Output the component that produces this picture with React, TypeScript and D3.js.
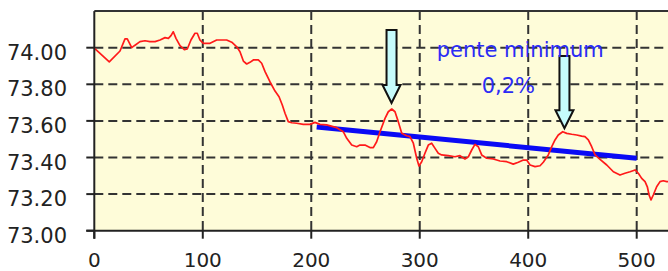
import React, { useEffect, useRef } from 'react';
import * as d3 from 'd3';

// red series: position (x) and price (y)
const seriesX = [0, 13.8, 23.7, 28.3, 30.4, 34.5, 36.9, 42.1, 46.7, 51.3, 56.0, 60.6, 65.2, 68.3, 70.7, 72.8, 75.3, 79.0, 83.0, 85.7, 89.1, 92.8, 94.9, 97.4, 100.5, 106.7, 112.8, 122.0, 126.7, 131.3, 134.3, 137.4, 140.5, 143.5, 146.6, 151.2, 154.3, 157.4, 161.9, 166.6, 170.3, 173.3, 175.8, 178.8, 182.0, 186.6, 192.7, 198.8, 203.4, 208.1, 214.2, 223.4, 229.5, 232.7, 237.3, 241.9, 244.9, 249.5, 254.1, 257.2, 260.3, 263.4, 268.0, 271.0, 274.2, 277.2, 280.2, 283.4, 288.0, 291.0, 294.1, 297.2, 299.3, 301.8, 304.8, 307.9, 311.0, 314.1, 317.1, 320.2, 326.3, 332.5, 337.1, 341.7, 344.8, 347.9, 350.9, 354.0, 357.1, 361.7, 367.8, 374.0, 380.2, 386.2, 390.9, 395.5, 398.6, 401.7, 406.3, 410.9, 413.9, 418.5, 421.7, 424.7, 427.7, 431.8, 435.5, 440.1, 444.7, 449.3, 452.3, 455.4, 458.5, 461.6, 466.2, 472.4, 478.5, 484.6, 489.2, 493.9, 498.5, 501.5, 504.6, 507.7, 509.8, 511.4, 513.2, 515.3, 518.4, 521.5, 524.5, 527.7, 535];
const seriesY = [73.998, 73.923, 73.982, 74.048, 74.048, 74.000, 74.011, 74.033, 74.038, 74.033, 74.033, 74.042, 74.055, 74.051, 74.066, 74.087, 74.051, 74.011, 73.989, 73.993, 74.042, 74.079, 74.079, 74.042, 74.024, 74.024, 74.042, 74.042, 74.030, 74.005, 73.978, 73.927, 73.911, 73.920, 73.933, 73.933, 73.915, 73.869, 73.814, 73.763, 73.732, 73.687, 73.642, 73.596, 73.590, 73.587, 73.581, 73.581, 73.592, 73.581, 73.578, 73.563, 73.541, 73.505, 73.468, 73.459, 73.468, 73.468, 73.454, 73.454, 73.486, 73.541, 73.614, 73.650, 73.665, 73.650, 73.596, 73.532, 73.519, 73.514, 73.478, 73.396, 73.354, 73.377, 73.423, 73.468, 73.478, 73.450, 73.423, 73.414, 73.410, 73.404, 73.410, 73.392, 73.404, 73.441, 73.472, 73.459, 73.414, 73.396, 73.392, 73.381, 73.377, 73.364, 73.374, 73.386, 73.386, 73.359, 73.350, 73.355, 73.374, 73.414, 73.459, 73.496, 73.523, 73.541, 73.532, 73.527, 73.523, 73.517, 73.514, 73.496, 73.459, 73.414, 73.390, 73.359, 73.322, 73.304, 73.314, 73.322, 73.332, 73.314, 73.286, 73.268, 73.240, 73.195, 73.168, 73.195, 73.240, 73.268, 73.273, 73.268, 73.27];

// minimum slope line (start, end)
const slopeX = [205, 500];
const slopeY = [73.567, 73.396];

// arrows: x, tip value, top value
const arrowX = [274, 433.4];
const arrowTip = [73.698, 73.560];
const arrowTop = [74.097, 73.955];

const xTicks = [0, 100, 200, 300, 400, 500];
const yTicks = [73.0, 73.2, 73.4, 73.6, 73.8, 74.0];

const noteLines = ['pente minimum', '0,2%'];
const noteX = [315.6, 357.1];
const noteY = [73.948, 73.750];

function App() {
  const graphRef = useRef<SVGSVGElement>(null);

  function drawChart() {
    const width = 668;
    const height = 271;
    const svg = d3.select(graphRef.current);
    svg.selectAll('*').remove();
    svg.attr('width', width).attr('height', height);

    const x = d3.scaleLinear().domain([0, 550]).range([94.3, 94.3 + 550 * 1.0848]);
    const y = d3.scaleLinear().domain([73, 74.2]).range([230.7, 230.7 - 1.2 * 183]);

    const left = x(0), right = x(550), top = y(74.2), bottom = y(73);

    svg.append('rect')
      .attr('x', left).attr('y', top)
      .attr('width', right - left).attr('height', bottom - top)
      .attr('fill', '#fefcd9');

    // dashed grid
    svg.selectAll('.hgrid')
      .data(yTicks.slice(1))
      .enter().append('line')
        .attr('x1', left).attr('x2', right)
        .attr('y1', d => y(d)).attr('y2', d => y(d))
        .attr('stroke', '#333')
        .attr('stroke-width', 2)
        .attr('stroke-dasharray', '9,5');
    svg.selectAll('.vgrid')
      .data(xTicks.slice(1))
      .enter().append('line')
        .attr('x1', d => x(d)).attr('x2', d => x(d))
        .attr('y1', top).attr('y2', bottom)
        .attr('stroke', '#333')
        .attr('stroke-width', 2)
        .attr('stroke-dasharray', '9,5');

    // slope line
    svg.append('line')
      .attr('x1', x(slopeX[0])).attr('y1', y(slopeY[0]))
      .attr('x2', x(slopeX[1])).attr('y2', y(slopeY[1]))
      .attr('stroke', '#0a0af5')
      .attr('stroke-width', 5);

    const line = d3.line<number>()
      .x((d, i) => x(seriesX[i]))
      .y(d => y(d));
    svg.append('path')
      .attr('d', line(seriesY))
      .attr('fill', 'none')
      .attr('stroke', '#ff1a1a')
      .attr('stroke-width', 1.7)
      .attr('stroke-linejoin', 'round');

    // arrows
    arrowX.forEach((ax, i) => {
      const cx = x(ax);
      const tip = y(arrowTip[i]);
      const t = y(arrowTop[i]);
      const hw = 9, sw = 5, hh = 18;
      const p = d3.path();
      p.moveTo(cx - sw, t);
      p.lineTo(cx + sw, t);
      p.lineTo(cx + sw, tip - hh);
      p.lineTo(cx + hw, tip - hh);
      p.lineTo(cx, tip);
      p.lineTo(cx - hw, tip - hh);
      p.lineTo(cx - sw, tip - hh);
      p.closePath();
      svg.append('path')
        .attr('d', p.toString())
        .attr('fill', '#c6fbfb')
        .attr('stroke', '#111')
        .attr('stroke-width', 2)
        .attr('stroke-linejoin', 'miter');
    });

    // note
    svg.selectAll('.note')
      .data(noteLines)
      .enter().append('text')
        .attr('x', (d, i) => x(noteX[i]))
        .attr('y', (d, i) => y(noteY[i]))
        .attr('fill', '#2b2bf5')
        .style('font-family', '"DejaVu Sans", sans-serif')
        .style('font-size', '21px')
        .text(d => d);

    // frame
    svg.append('line')
      .attr('x1', left).attr('x2', right)
      .attr('y1', top).attr('y2', top)
      .attr('stroke', '#333').attr('stroke-width', 2);
    svg.append('line')
      .attr('x1', left - 8).attr('x2', right)
      .attr('y1', bottom).attr('y2', bottom)
      .attr('stroke', '#222').attr('stroke-width', 2);
    svg.append('line')
      .attr('x1', left).attr('x2', left)
      .attr('y1', top).attr('y2', bottom + 8)
      .attr('stroke', '#222').attr('stroke-width', 2);

    // ticks + labels
    svg.selectAll('.ytick')
      .data(yTicks)
      .enter().append('line')
        .attr('x1', left - 8).attr('x2', left)
        .attr('y1', d => y(d)).attr('y2', d => y(d))
        .attr('stroke', '#222').attr('stroke-width', 2);
    svg.selectAll('.xtick')
      .data(xTicks)
      .enter().append('line')
        .attr('x1', d => x(d)).attr('x2', d => x(d))
        .attr('y1', bottom).attr('y2', bottom + 8)
        .attr('stroke', '#222').attr('stroke-width', 2);

    svg.selectAll('.ylabel')
      .data(yTicks)
      .enter().append('text')
        .attr('x', 67)
        .attr('y', d => y(d) + 12)
        .attr('text-anchor', 'end')
        .attr('fill', '#222')
        .style('font-family', '"DejaVu Sans", sans-serif')
        .style('font-size', '21px')
        .text(d => d3.format('.2f')(d));
    svg.selectAll('.xlabel')
      .data(xTicks)
      .enter().append('text')
        .attr('x', d => x(d))
        .attr('y', 267)
        .attr('text-anchor', 'middle')
        .attr('fill', '#222')
        .style('font-family', '"DejaVu Sans", sans-serif')
        .style('font-size', '20px')
        .text(d => String(d));
  }

  useEffect(() => {
    drawChart();
  }, []);

  return (
    <svg ref={graphRef} style={{ position: 'absolute', left: 0, top: 0, background: '#fff' }}></svg>
  );
}

export default App;
